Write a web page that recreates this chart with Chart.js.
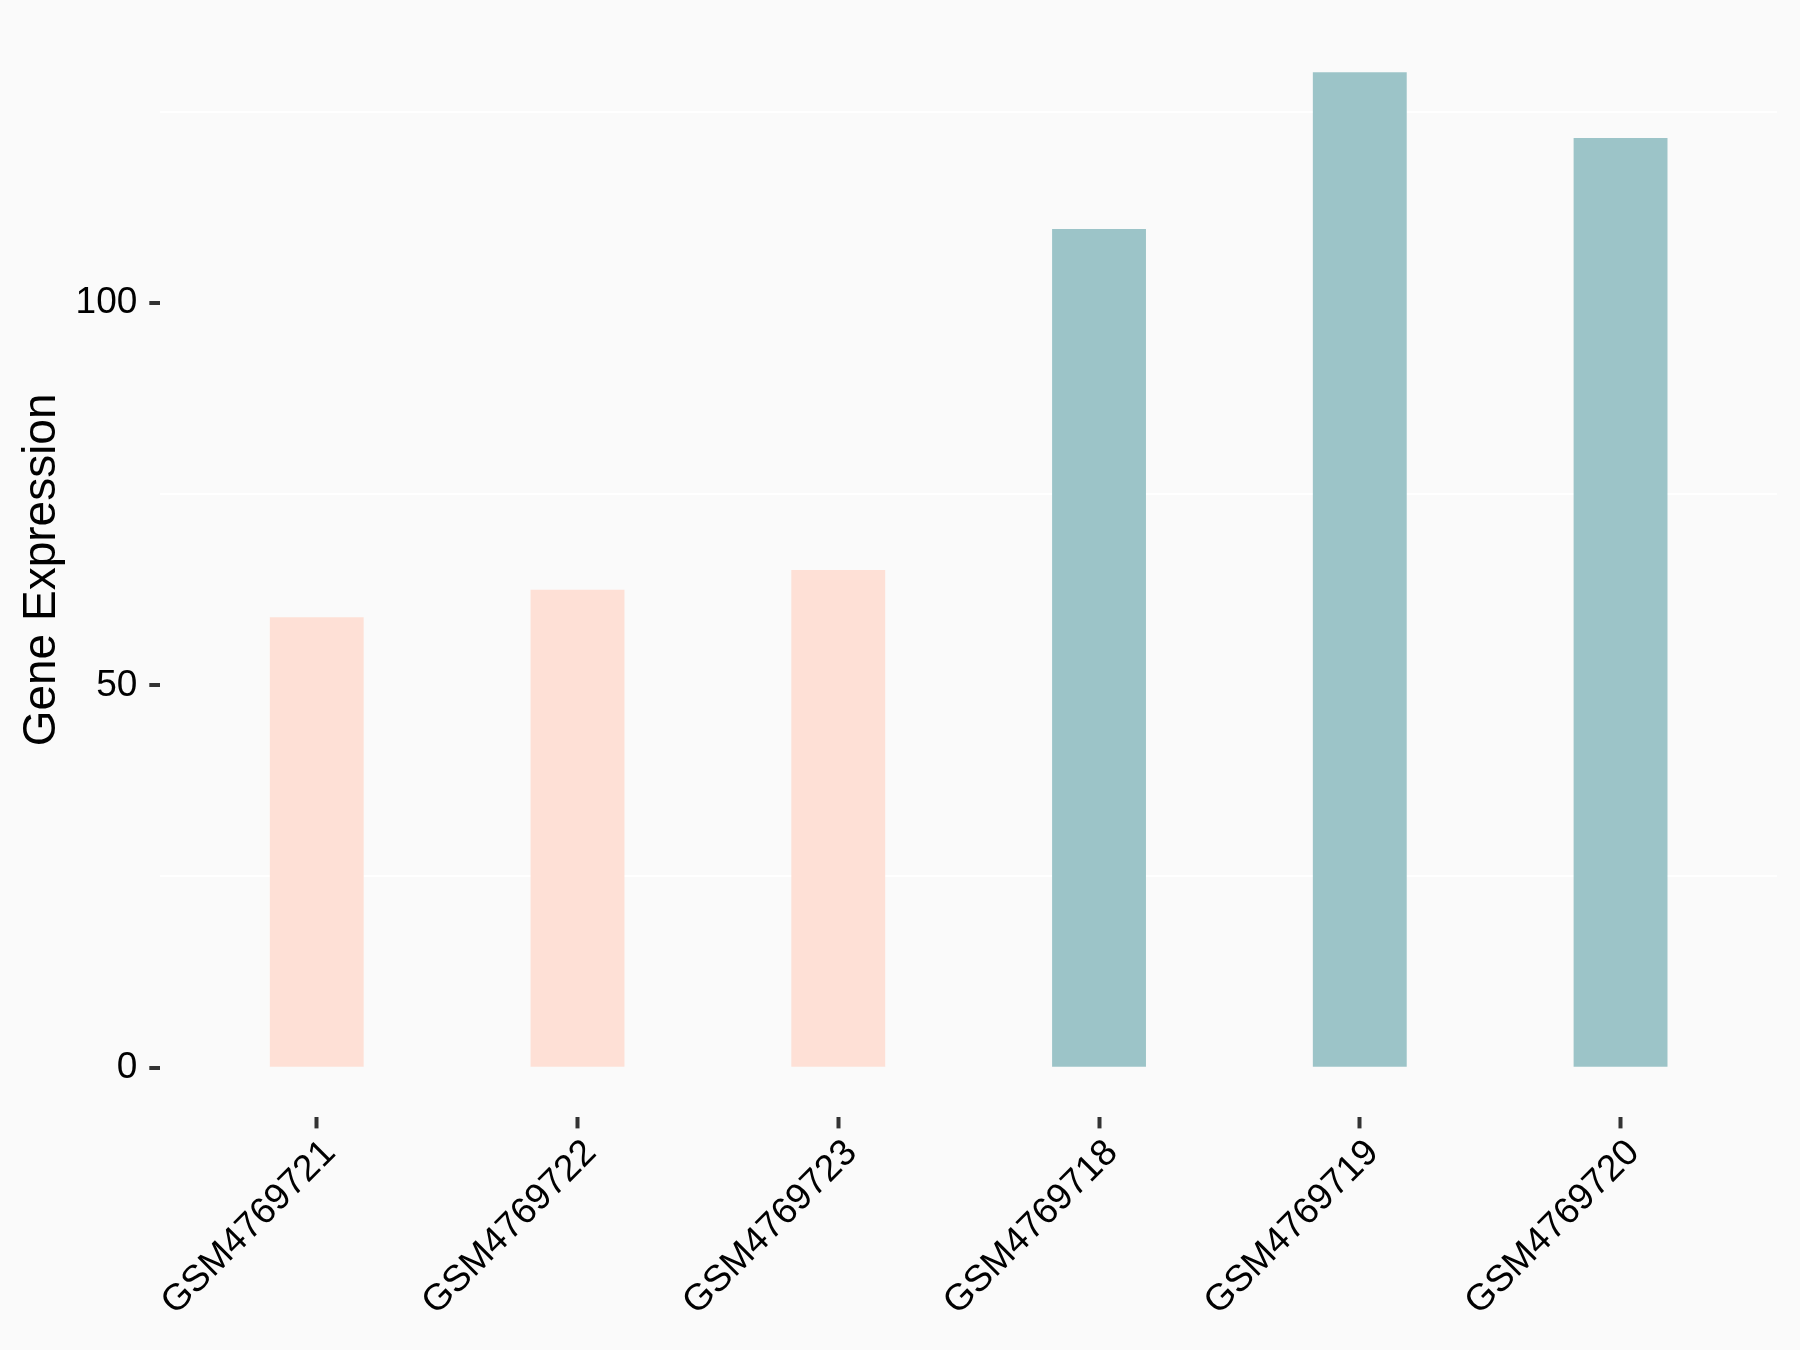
<!DOCTYPE html>
<html>
<head>
<meta charset="utf-8">
<script src="https://cdn.jsdelivr.net/npm/chart.js@4/dist/chart.umd.min.js"></script>
<style>
  html, body { margin: 0; padding: 0; background: #fafafa; }
  #wrap { width: 1800px; height: 1350px; position: relative; }
</style>
</head>
<body>
<div id="wrap"><canvas id="chart"></canvas></div>
<script>
const samples = ["GSM4769721", "GSM4769722", "GSM4769723", "GSM4769718", "GSM4769719", "GSM4769720"];
const expression = [58.9, 62.5, 65.1, 109.7, 130.2, 121.6];
const groups = ["low", "low", "low", "high", "high", "high"];
const yTicks = [0, 25, 50, 75, 100, 125];
const yLabelled = [0, 50, 100];

const groupColors = { low: "#fee0d6", high: "#9cc4c8" };
const FONT = "'Liberation Sans', Arial, 'DejaVu Sans', sans-serif";
const TICK_COLOR = "#333333";

// ggplot-like expansion: 5% of data range on each side
const yMax = Math.max(...expression);
const yPad = yMax * 0.05;

const points = expression.map((v, i) => ({ x: i + 1, y: v }));

new Chart(document.getElementById("chart"), {
  type: "bar",
  data: {
    datasets: [
      {
        data: points,
        backgroundColor: groups.map((g) => groupColors[g]),
        borderWidth: 0,
        barPercentage: 0.4,
        categoryPercentage: 0.9,
      },
    ],
  },
  options: {
    responsive: true,
    maintainAspectRatio: false,
    animation: false,
    layout: { padding: { top: 22.4, right: 23, bottom: 0, left: 0 } },
    plugins: {
      legend: { display: false },
      tooltip: { enabled: false },
    },
    scales: {
      x: {
        type: "linear",
        min: 0.4,
        max: samples.length + 0.6,
        offset: false,
        border: { display: false },
        grid: {
          offset: false,
          drawOnChartArea: false,
          drawTicks: true,
          tickLength: 11,
          tickWidth: 4,
          tickColor: TICK_COLOR,
        },
        afterBuildTicks: (scale) => {
          scale.ticks = samples.map((_, i) => ({ value: i + 1 }));
        },
        afterFit: (scale) => {
          scale.height = 232.6;
          scale.paddingLeft = 0;
          scale.paddingRight = 0;
        },
        ticks: {
          autoSkip: false,
          minRotation: 45,
          maxRotation: 45,
          padding: 3,
          labelOffset: 13,
          color: "#000000",
          font: { family: FONT, size: 37 },
          callback: (value) => samples[Math.round(value) - 1] ?? "",
        },
      },
      y: {
        min: -yPad,
        max: yMax + yPad,
        border: { display: false },
        afterBuildTicks: (scale) => {
          scale.ticks = yTicks.map((v) => ({ value: v }));
        },
        afterFit: (scale) => {
          scale.width = 160.3;
          scale.paddingTop = 0;
          scale.paddingBottom = 0;
        },
        grid: {
          lineWidth: 2,
          tickLength: 11,
          tickWidth: 4,
          color: (ctx) => (yLabelled.includes(ctx.tick?.value) ? "rgba(0,0,0,0)" : "#ffffff"),
          tickColor: (ctx) => (yLabelled.includes(ctx.tick?.value) ? TICK_COLOR : "rgba(0,0,0,0)"),
        },
        ticks: {
          padding: 12,
          color: "#000000",
          font: { family: FONT, size: 37 },
          callback: (value) => (yLabelled.includes(value) ? String(value) : ""),
        },
        title: {
          display: true,
          text: "Gene Expression",
          color: "#000000",
          padding: { top: 15, bottom: 0 },
          font: { family: FONT, size: 46 },
        },
      },
    },
  },
});
</script>
</body>
</html>
